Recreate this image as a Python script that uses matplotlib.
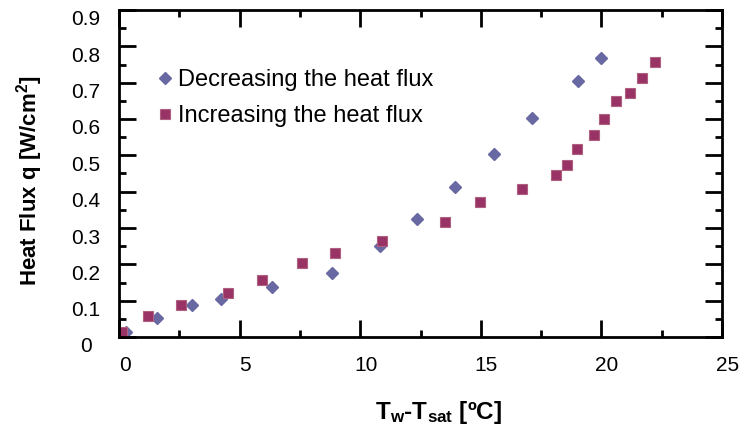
import matplotlib.pyplot as plt
import matplotlib.transforms as mtransforms
from matplotlib.ticker import MultipleLocator, FixedLocator

plt.rcParams['font.family'] = ['Liberation Sans', 'DejaVu Sans']
plt.rcParams['mathtext.fontset'] = 'custom'
plt.rcParams['mathtext.rm'] = 'Liberation Sans:bold'
plt.rcParams['mathtext.bf'] = 'Liberation Sans:bold'
plt.rcParams['mathtext.it'] = 'Liberation Sans:bold'
plt.rcParams['mathtext.default'] = 'bf'

# decreasing the heat flux (diamonds)
dec_x = [0.3, 1.59, 3.04, 4.23, 6.34, 8.84, 10.82, 12.34, 13.93, 15.55, 17.14, 19.04, 19.98]
dec_q = [0.015, 0.053, 0.089, 0.105, 0.138, 0.175, 0.250, 0.324, 0.414, 0.504, 0.603, 0.705, 0.767]

# increasing the heat flux (squares)
inc_x = [0.11, 1.22, 2.56, 4.53, 5.93, 7.59, 8.94, 10.90, 13.52, 14.98, 16.72, 18.12,
         18.56, 19.0, 19.71, 20.10, 20.62, 21.17, 21.70, 22.21]
inc_q = [0.015, 0.059, 0.088, 0.120, 0.157, 0.203, 0.231, 0.264, 0.317, 0.371, 0.407, 0.445,
         0.473, 0.518, 0.556, 0.601, 0.650, 0.671, 0.712, 0.757]

y_ticks = [0, 0.1, 0.2, 0.3, 0.4, 0.5, 0.6, 0.7, 0.8, 0.9]
y_labels = ['0', '0.1', '0.2', '0.3', '0.4', '0.5', '0.6', '0.7', '0.8', '0.9']


def main():
    fig = plt.figure(figsize=(7.43, 4.34), dpi=100)
    ax = fig.add_axes([119 / 743, 1 - 337 / 434, (722 - 119) / 743, (337 - 10) / 434])

    ax.plot(dec_x, dec_q, linestyle='none', marker='D', markersize=5.8,
            color='#6868a2', markeredgecolor='#6868a2', label='Decreasing the heat flux')
    ax.plot(inc_x, inc_q, linestyle='none', marker='s', markersize=7.5,
            color='#993366', markeredgecolor='#b0607f', markeredgewidth=0.8,
            label='Increasing the heat flux')

    ax.set_xlim(0, 25)
    ax.set_ylim(0, 0.9)
    ax.xaxis.set_major_locator(MultipleLocator(5))
    ax.xaxis.set_minor_locator(MultipleLocator(2.5))
    ax.yaxis.set_major_locator(FixedLocator(y_ticks))
    ax.yaxis.set_minor_locator(MultipleLocator(0.05))
    ax.set_yticklabels(y_labels)

    for s in ax.spines.values():
        s.set_linewidth(2)
    ax.tick_params(which='both', direction='in', top=True, right=True, width=2)
    ax.tick_params(which='major', length=12)
    ax.tick_params(which='minor', length=5)
    ax.tick_params(axis='x', labelsize=15, pad=14)
    ax.tick_params(axis='y', labelsize=15, pad=24)

    # excel style: y labels centred and sitting a little low, x labels nudged right
    y_off = mtransforms.ScaledTranslation(0, -0.08, fig.dpi_scale_trans)
    for lab in ax.get_yticklabels():
        lab.set_horizontalalignment('center')
        lab.set_transform(lab.get_transform() + y_off)
    x_off = mtransforms.ScaledTranslation(0.055, 0, fig.dpi_scale_trans)
    for lab in ax.get_xticklabels():
        lab.set_transform(lab.get_transform() + x_off)

    ax.set_xlabel('T$_{w}$-T$_{sat}$ [ºC]', fontsize=17.5, fontweight='bold')
    ax.xaxis.set_label_coords((439 - 119) / 603, -(399 - 337) / 327)
    ax.set_ylabel('Heat Flux q [W/cm$^{2}$]', fontsize=16, fontweight='bold')
    ax.yaxis.set_label_coords((45 - 119) / 603, (337 - 181) / 327)

    ax.legend(loc='upper left', bbox_to_anchor=(0.062, 0.82), frameon=False, fontsize=17,
              handlelength=0.7, handletextpad=0.2, labelspacing=0.62, borderpad=0,
              borderaxespad=0)

    fig.savefig('out.png', dpi=100)


if __name__ == '__main__':
    main()
